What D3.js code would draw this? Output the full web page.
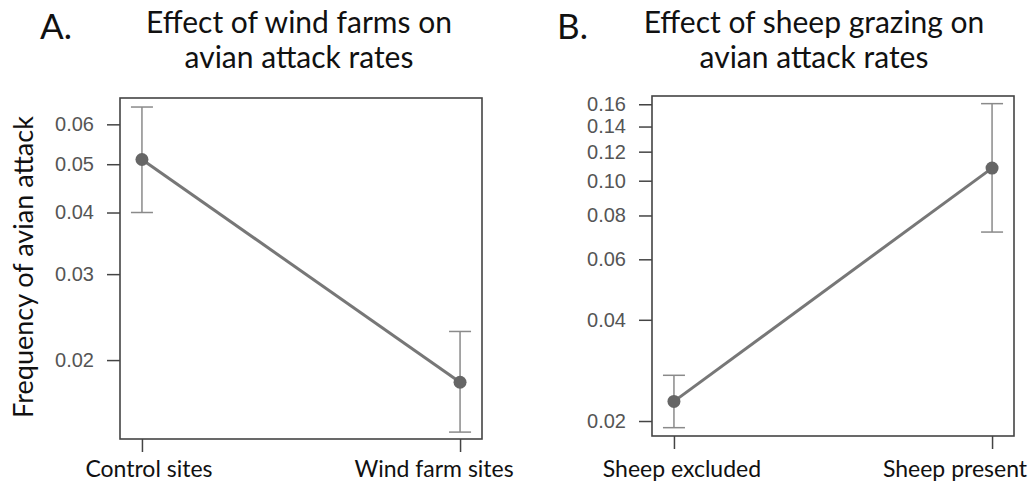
<!DOCTYPE html>
<html>
<head>
<meta charset="utf-8">
<script src="https://cdn.jsdelivr.net/npm/d3@7"></script>
<style>
  body { margin: 0; background: #fff; }
  .tick text { font-family: "Liberation Sans", Arial, sans-serif; fill: #555; }
  .lbl { font-family: Lato, "Open Sans", sans-serif; fill: #111; }
</style>
</head>
<body>
<div id="chart"></div>
<script>
// ---- data ----
const catsA = ["Control sites", "Wind farm sites"];
const fitA = [0.0511, 0.0180];
const lowerA = [0.0400, 0.0142];
const upperA = [0.0649, 0.0229];
const ticksA = [0.02, 0.03, 0.04, 0.05, 0.06];
const tickLabelsA = ["0.02", "0.03", "0.04", "0.05", "0.06"];
const yLimA = [0.01374, 0.0676];

const catsB = ["Sheep excluded", "Sheep present"];
const fitB = [0.0229, 0.1083];
const lowerB = [0.0191, 0.0718];
const upperB = [0.0274, 0.1606];
const ticksB = [0.02, 0.04, 0.06, 0.08, 0.10, 0.12, 0.14, 0.16];
const tickLabelsB = ["0.02", "0.04", "0.06", "0.08", "0.10", "0.12", "0.14", "0.16"];
const yLimB = [0.01803, 0.168];

const width = 1036, height = 486;

const svg = d3.select("#chart")
  .append("svg")
  .attr("width", width)
  .attr("height", height)
  .attr("viewBox", [0, 0, width, height]);

// logit link, the effects plot uses it for the y axis
const logit = (p) => Math.log(p / (1 - p));

function drawPanel(opt) {
  const box = opt.box;

  let x = d3.scalePoint()
            .domain(opt.cats)
            .range([box.left, box.right])
            .padding(0.069);

  let y = d3.scaleLinear()
            .domain([logit(opt.yLim[0]), logit(opt.yLim[1])])
            .range([box.bottom, box.top]);

  // y axis
  svg.append("g")
     .attr("transform", `translate(${box.left},0)`)
     .call(d3.axisLeft(y)
             .tickValues(opt.ticks.map(logit))
             .tickFormat((d, i) => opt.tickLabels[i])
             .tickSize(13)
             .tickPadding(13))
     .attr("font-size", "20px")
     .call((g) => g.select(".domain").remove())
     .call((g) => g.selectAll(".tick line").attr("stroke", "#444").attr("stroke-width", 1.5));

  // x axis ticks
  svg.append("g")
     .attr("transform", `translate(0,${box.bottom})`)
     .call(d3.axisBottom(x).tickSize(13).tickFormat(""))
     .call((g) => g.select(".domain").remove())
     .call((g) => g.selectAll(".tick line").attr("stroke", "#444").attr("stroke-width", 1.5));

  // category labels (nudged like in the original figure)
  svg.selectAll(null)
     .data(opt.cats)
     .enter()
       .append("text")
       .attr("class", "lbl")
       .attr("x", (d, i) => x(d) + opt.labelShift[i])
       .attr("y", 477)
       .attr("text-anchor", "middle")
       .attr("font-size", "23px")
       .text((d) => d);

  // frame
  svg.append("rect")
     .attr("x", box.left)
     .attr("y", box.top)
     .attr("width", box.right - box.left)
     .attr("height", box.bottom - box.top)
     .attr("fill", "none")
     .attr("stroke", "#444")
     .attr("stroke-width", 1.6);

  // error bars
  const idx = d3.range(opt.cats.length);
  const eb = svg.append("g").attr("stroke", "#8a8a8a").attr("stroke-width", 1.5);
  eb.selectAll(".v").data(idx).enter().append("line")
    .attr("x1", (i) => x(opt.cats[i])).attr("x2", (i) => x(opt.cats[i]))
    .attr("y1", (i) => y(logit(opt.lower[i]))).attr("y2", (i) => y(logit(opt.upper[i])));
  eb.selectAll(".lo").data(idx).enter().append("line")
    .attr("x1", (i) => x(opt.cats[i]) - 11).attr("x2", (i) => x(opt.cats[i]) + 11)
    .attr("y1", (i) => y(logit(opt.lower[i]))).attr("y2", (i) => y(logit(opt.lower[i])));
  eb.selectAll(".hi").data(idx).enter().append("line")
    .attr("x1", (i) => x(opt.cats[i]) - 11).attr("x2", (i) => x(opt.cats[i]) + 11)
    .attr("y1", (i) => y(logit(opt.upper[i]))).attr("y2", (i) => y(logit(opt.upper[i])));

  // fitted line and points
  svg.append("path")
     .datum(idx)
     .attr("fill", "none")
     .attr("stroke", "#777")
     .attr("stroke-width", 3)
     .attr("d", d3.line()
                  .x((i) => x(opt.cats[i]))
                  .y((i) => y(logit(opt.fit[i]))));

  svg.selectAll(null)
     .data(idx)
     .enter()
       .append("circle")
       .attr("cx", (i) => x(opt.cats[i]))
       .attr("cy", (i) => y(logit(opt.fit[i])))
       .attr("r", 6.5)
       .style("fill", "#666");

  // titles
  svg.append("text")
     .attr("class", "lbl")
     .attr("x", opt.letterX)
     .attr("y", 39)
     .attr("font-size", "35px")
     .text(opt.letter);

  svg.selectAll(null)
     .data(opt.title)
     .enter()
       .append("text")
       .attr("class", "lbl")
       .attr("x", opt.titleX)
       .attr("y", (d, i) => 33 + i * 35)
       .attr("text-anchor", "middle")
       .attr("font-size", "30px")
       .text((d) => d);
}

drawPanel({
  cats: catsA, fit: fitA, lower: lowerA, upper: upperA,
  ticks: ticksA, tickLabels: tickLabelsA, yLim: yLimA,
  box: { left: 120, right: 482, top: 98, bottom: 439 },
  labelShift: [7, -26],
  letter: "A.", letterX: 40,
  title: ["Effect of wind farms on", "avian attack rates"], titleX: 299
});

drawPanel({
  cats: catsB, fit: fitB, lower: lowerB, upper: upperB,
  ticks: ticksB, tickLabels: tickLabelsB, yLim: yLimB,
  box: { left: 652, right: 1014, top: 96, bottom: 436 },
  labelShift: [8, -37],
  letter: "B.", letterX: 557,
  title: ["Effect of sheep grazing on", "avian attack rates"], titleX: 814
});

// y axis title
svg.append("text")
   .attr("class", "lbl")
   .attr("transform", "translate(33,267) rotate(-90)")
   .attr("text-anchor", "middle")
   .attr("font-size", "27px")
   .text("Frequency of avian attack");
</script>
</body>
</html>
